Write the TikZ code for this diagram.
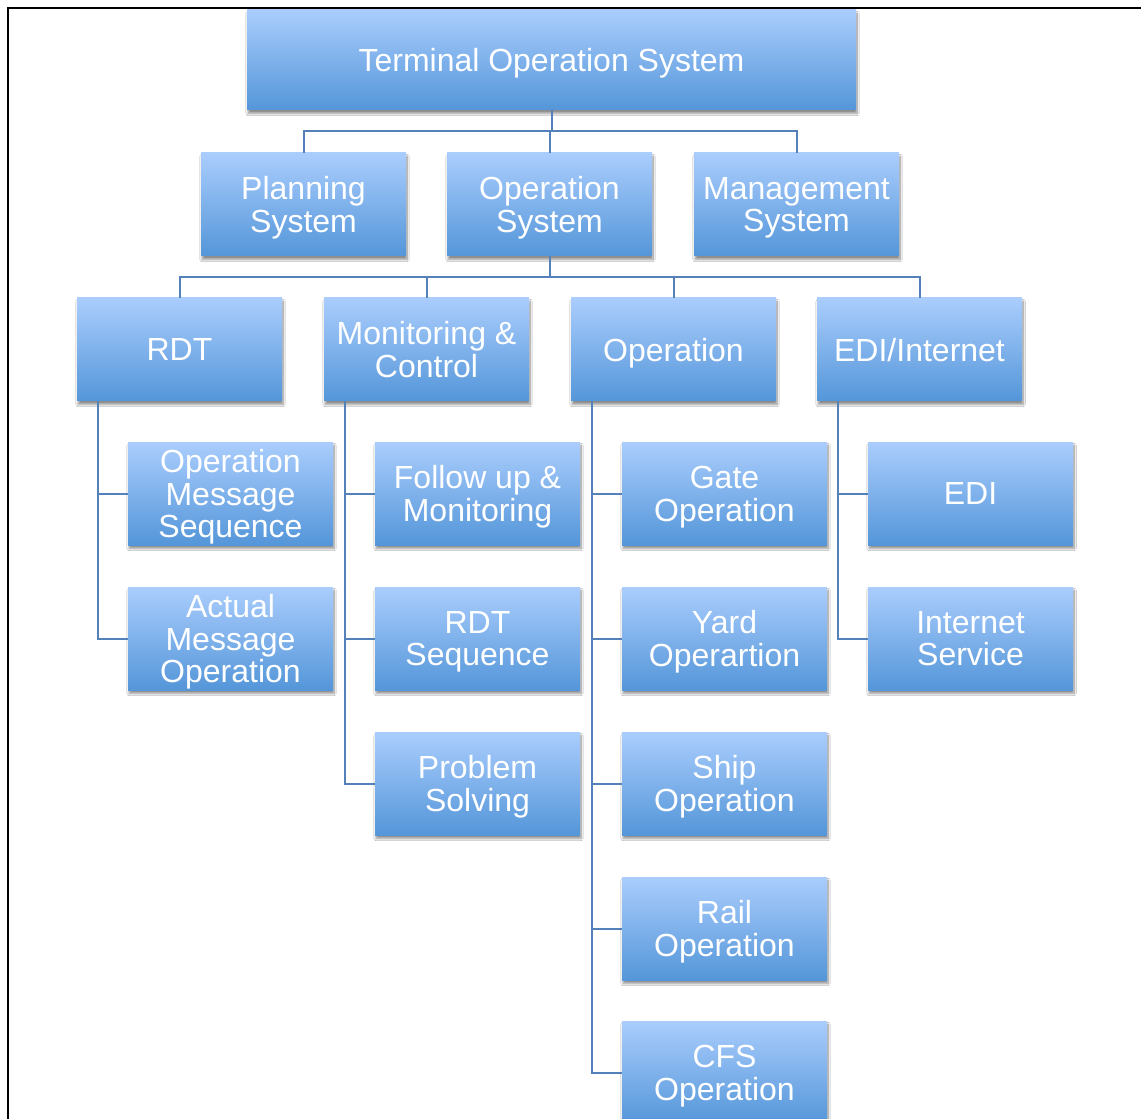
\documentclass[tikz,border=0pt]{standalone}
\usepackage{fontspec}
\setmainfont{Liberation Sans}
\usetikzlibrary{shadows.blur}
\definecolor{boxtop}{RGB}{170,205,253}
\definecolor{boxbot}{RGB}{84,150,217}
\definecolor{linkblue}{RGB}{84,129,185}
\tikzset{
  unitbox/.style={anchor=north west, inner sep=0pt, outer sep=0pt,
    minimum width=153.75pt, minimum height=77.25pt, align=center,
    top color=boxtop, bottom color=boxbot, text=white, text depth=0pt,
    font=\fontsize{24}{24.5}\selectfont,
    blur shadow={shadow xshift=0.8pt, shadow yshift=-2.6pt,
      shadow blur radius=1.6pt, shadow blur steps=10, shadow opacity=45}},
  widebox/.style={unitbox, minimum width=456.75pt, minimum height=75pt},
  link/.style={draw=linkblue, line width=1.5pt}
}
\begin{document}
\begin{tikzpicture}[x=0.75pt, y=-0.75pt]
\useasboundingbox (0,0) rectangle (1141,1119);
\clip (0,0) rectangle (1141,1119);
\fill[white] (0,0) rectangle (1141,1119);

% outer frame (top and left edges)
\draw[line width=2.2pt, line cap=rect] (8,1130) -- (8,8) -- (1150,8);

% root
\node[widebox] (tos) at (247,10) {Terminal Operation System};

% second level
\node[unitbox] (plan) at (201,153) {Planning\\System};
\node[unitbox] (opsys) at (447,153) {Operation\\System};
\node[unitbox] (mgmt) at (694,153) {Management\\System};

% third level
\node[unitbox] (rdt) at (77,298) {RDT};
\node[unitbox] (mc) at (324,298) {Monitoring \&\\Control};
\node[unitbox] (oper) at (571,298) {Operation};
\node[unitbox] (edi) at (817,298) {EDI/Internet};

% RDT children
\node[unitbox] (oms) at (128,442) {Operation\\Message\\Sequence};
\node[unitbox] (amo) at (128,587) {Actual\\Message\\Operation};

% Monitoring & Control children
\node[unitbox] (fum) at (375,442) {Follow up \&\\Monitoring};
\node[unitbox] (rseq) at (375,587) {RDT\\Sequence};
\node[unitbox] (prob) at (375,732) {Problem\\Solving};

% Operation children
\node[unitbox] (gate) at (622,442) {Gate\\Operation};
\node[unitbox] (yard) at (622,587) {Yard\\Operartion};
\node[unitbox] (ship) at (622,732) {Ship\\Operation};
\node[unitbox] (rail) at (622,877) {Rail\\Operation};
\node[unitbox] (cfs) at (622,1021) {CFS\\Operation};

% EDI/Internet children
\node[unitbox] (ediN) at (868,442) {EDI};
\node[unitbox] (inet) at (868,587) {Internet\\Service};

% root to second level
\draw[link] (tos.south) -- ++(0,21) -| (plan.north);
\draw[link] (tos.south) -- ++(0,21) -| (opsys.north);
\draw[link] (tos.south) -- ++(0,21) -| (mgmt.north);

% Operation System to third level
\draw[link] (opsys.south) -- ++(0,21) -| (rdt.north);
\draw[link] (opsys.south) -- ++(0,21) -| (mc.north);
\draw[link] (opsys.south) -- ++(0,21) -| (oper.north);
\draw[link] (opsys.south) -- ++(0,21) -| (edi.north);

% third level to leaves
\draw[link] ([xshift=15.75pt]rdt.south west) |- (oms.west);
\draw[link] ([xshift=15.75pt]rdt.south west) |- (amo.west);

\draw[link] ([xshift=15.75pt]mc.south west) |- (fum.west);
\draw[link] ([xshift=15.75pt]mc.south west) |- (rseq.west);
\draw[link] ([xshift=15.75pt]mc.south west) |- (prob.west);

\draw[link] ([xshift=15.75pt]oper.south west) |- (gate.west);
\draw[link] ([xshift=15.75pt]oper.south west) |- (yard.west);
\draw[link] ([xshift=15.75pt]oper.south west) |- (ship.west);
\draw[link] ([xshift=15.75pt]oper.south west) |- (rail.west);
\draw[link] ([xshift=15.75pt]oper.south west) |- (cfs.west);

\draw[link] ([xshift=15.75pt]edi.south west) |- (ediN.west);
\draw[link] ([xshift=15.75pt]edi.south west) |- (inet.west);
\end{tikzpicture}
\end{document}
